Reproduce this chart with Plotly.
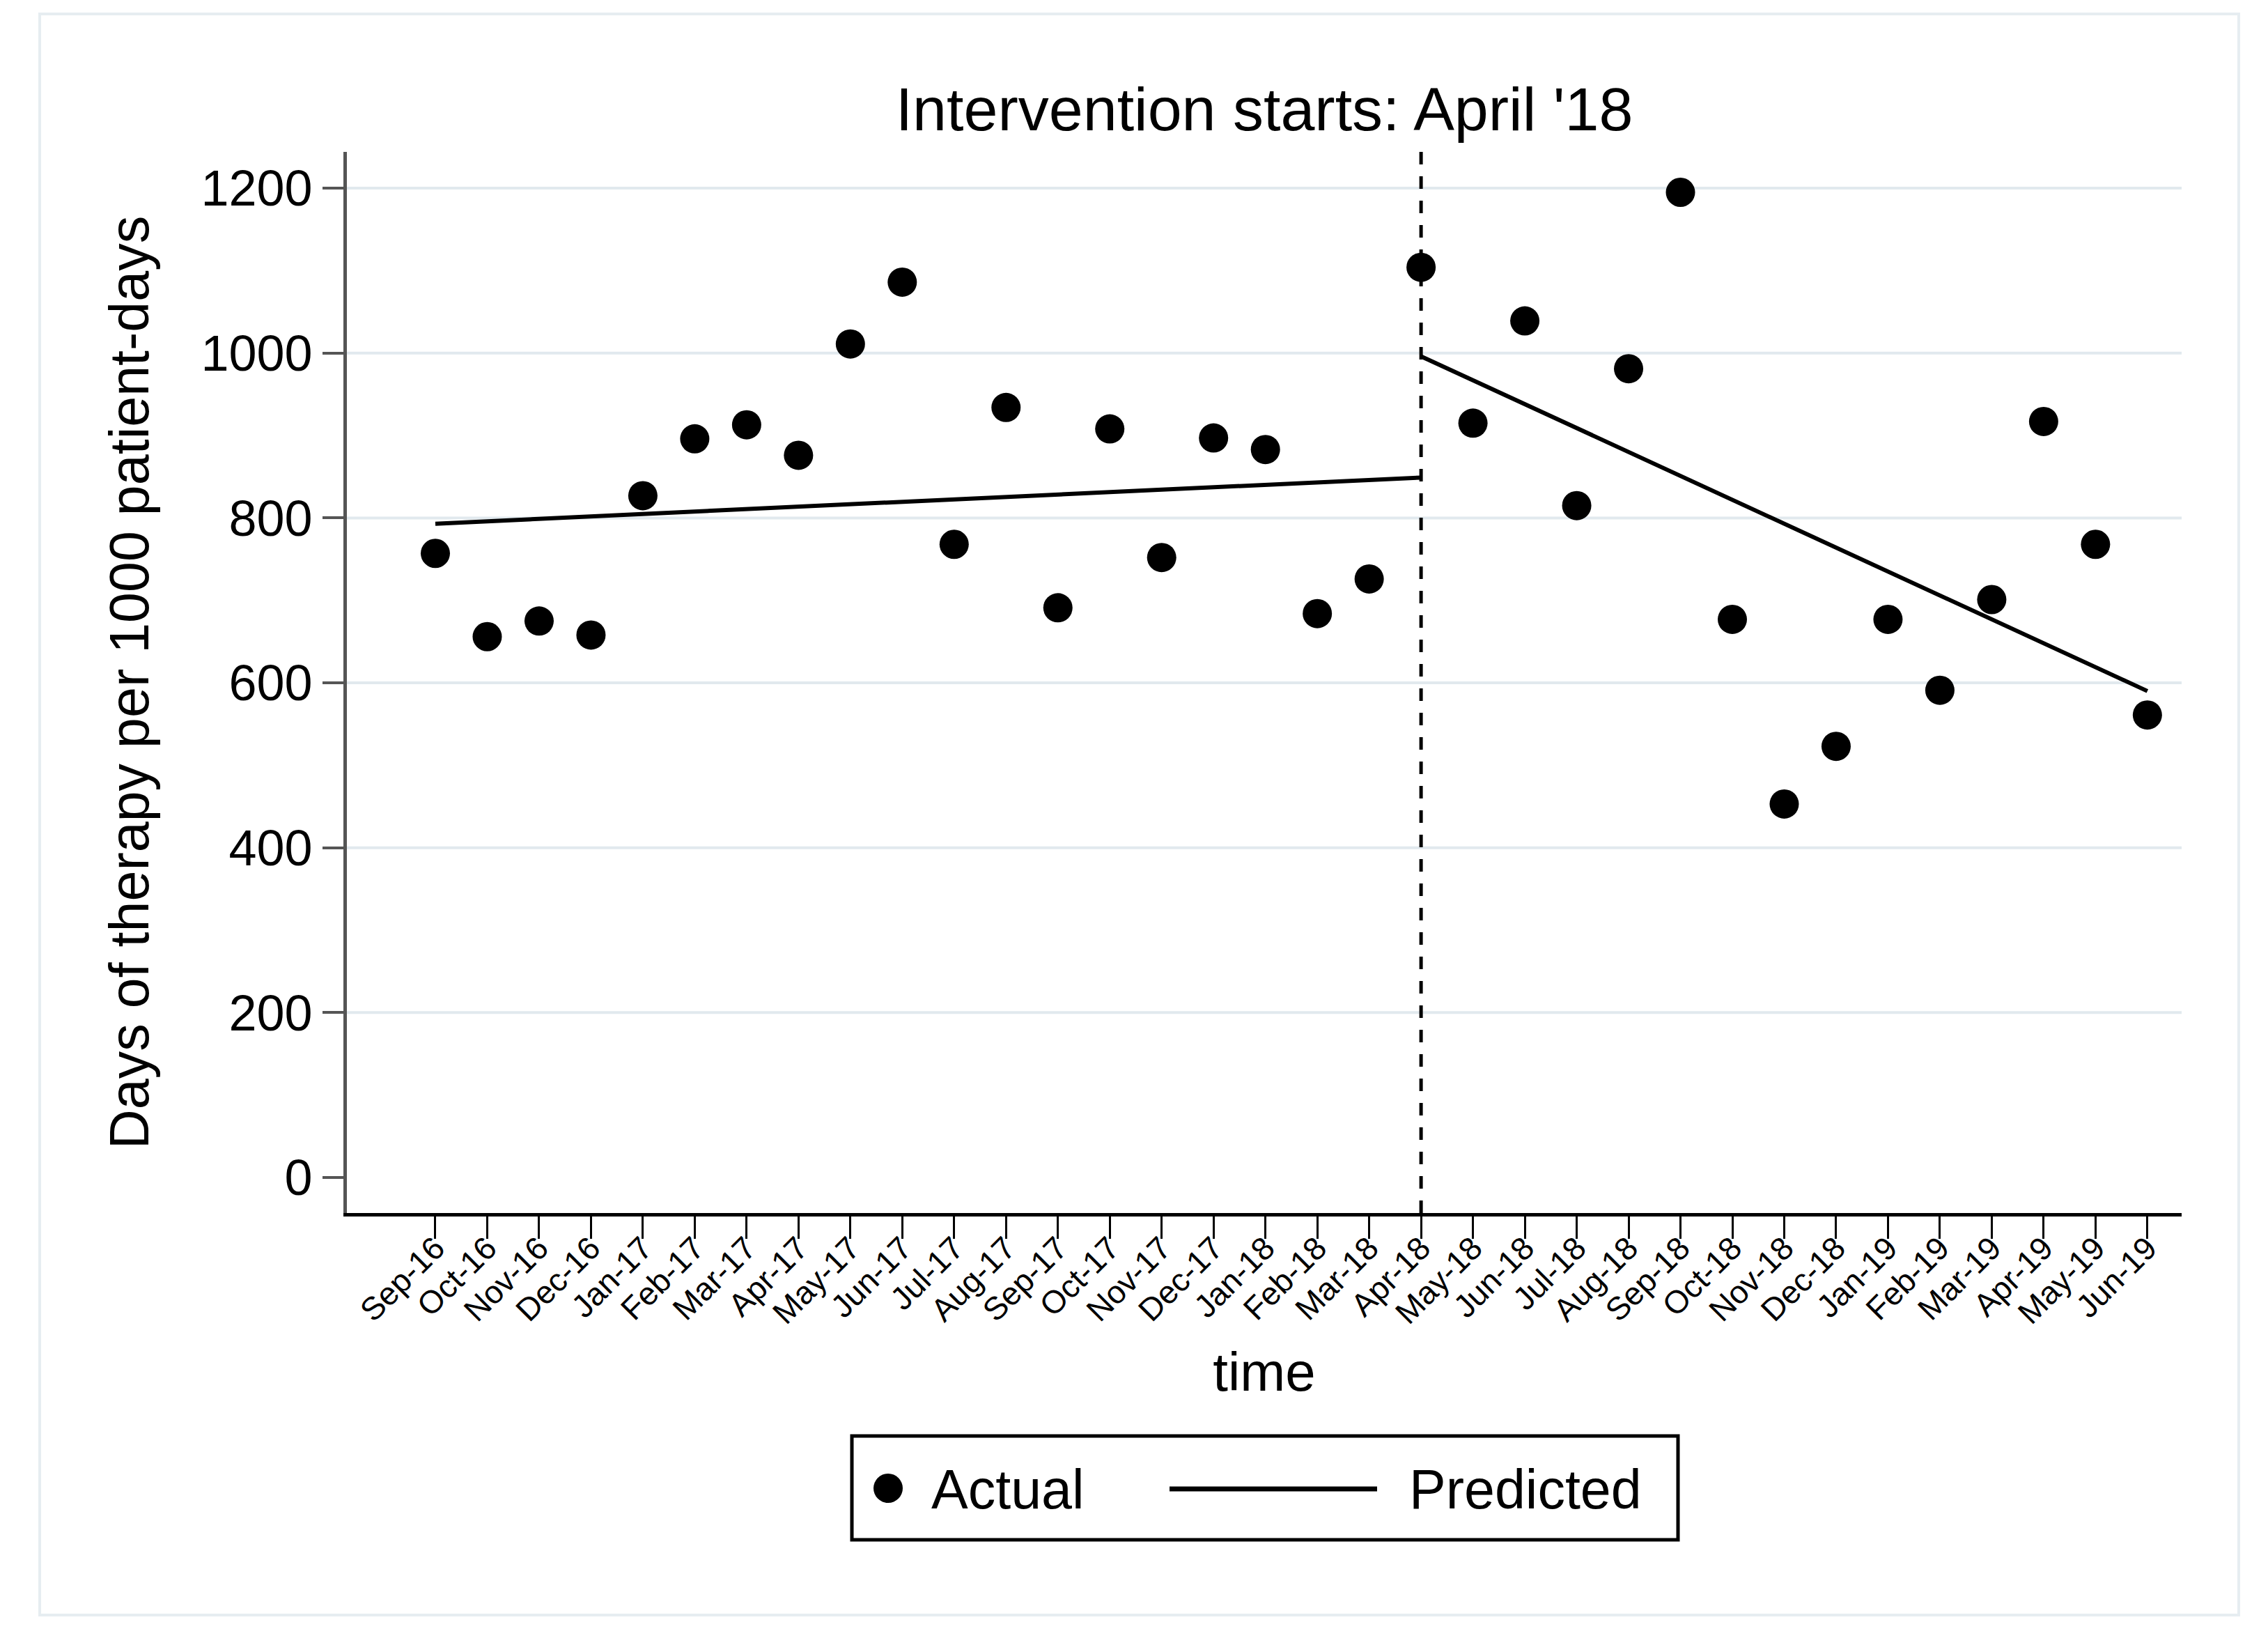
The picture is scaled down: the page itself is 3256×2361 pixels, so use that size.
import plotly.graph_objects as go

# ---------------- data ----------------
months = ["Sep-16", "Oct-16", "Nov-16", "Dec-16", "Jan-17", "Feb-17", "Mar-17", "Apr-17",
          "May-17", "Jun-17", "Jul-17", "Aug-17", "Sep-17", "Oct-17", "Nov-17", "Dec-17",
          "Jan-18", "Feb-18", "Mar-18", "Apr-18", "May-18", "Jun-18", "Jul-18", "Aug-18",
          "Sep-18", "Oct-18", "Nov-18", "Dec-18", "Jan-19", "Feb-19", "Mar-19", "Apr-19",
          "May-19", "Jun-19"]

actual = [757, 656, 675, 658, 827, 896, 913, 876, 1011, 1086, 768, 934, 691, 908, 752, 897,
          883, 684, 726, 1104, 915, 1039, 815, 981, 1195, 677, 453, 523, 677, 591, 701, 917,
          768, 561]

# predicted (segmented) - pre-intervention: Sep-16 .. Apr-18
pred_pre = [793, 796, 799, 802, 805, 808, 811, 814, 816, 819, 822, 825, 828, 831, 834, 837,
            840, 843, 846, 849]
# post-intervention: Apr-18 .. Jun-19
pred_post = [996, 967, 938, 909, 880, 851, 822, 793, 764, 735, 706, 677, 648, 619, 590]

intervention_month = "Apr-18"
y_ticks = [0, 200, 400, 600, 800, 1000, 1200]
grid_vals = [200, 400, 600, 800, 1000, 1200]

title_text = "Intervention starts: April '18"
y_title = "Days of therapy per 1000 patient-days"
x_title = "time"

# ---------------- layout geometry ----------------
W, H = 3256, 2361
DX, DY = -7, -7
L, R, T, B = 497 + DX, 3131 + DX, 217 + DY, 1740 + DY
PW, PH = R - L, B - T


def px2x(px):
    return (px + DX - L) / PW


def py2y(py):
    return (B - (py + DY)) / PH


x_idx = list(range(len(months)))
iv = months.index(intervention_month)
x_pre = x_idx[: iv + 1]
x_post = x_idx[iv:]

FONT = "Arial, Liberation Sans, Helvetica, sans-serif"

fig = go.Figure()

fig.add_trace(go.Scatter(
    x=x_idx, y=actual, mode="markers", name="Actual",
    marker=dict(size=42, color="black", line=dict(width=0)),
    showlegend=False,
))
fig.add_trace(go.Scatter(
    x=x_pre, y=pred_pre, mode="lines", name="Predicted",
    line=dict(color="black", width=6), showlegend=False,
))
fig.add_trace(go.Scatter(
    x=x_post, y=pred_post, mode="lines", name="Predicted",
    line=dict(color="black", width=6), showlegend=False,
))

shapes = []
# gridlines
for g in grid_vals:
    shapes.append(dict(type="line", xref="paper", yref="y", x0=0, x1=1, y0=g, y1=g,
                       line=dict(color="#e1e9ee", width=4), layer="below"))
# intervention line
shapes.append(dict(type="line", xref="x", yref="paper", x0=iv, x1=iv, y0=0, y1=1,
                   line=dict(color="black", width=5, dash="18px,17px"), layer="above"))
# outer light frame
shapes.append(dict(type="rect", xref="paper", yref="paper",
                   x0=px2x(56), x1=px2x(3213), y0=py2y(2317), y1=py2y(19),
                   line=dict(color="#e6edf1", width=4), layer="below"))
# legend box
shapes.append(dict(type="rect", xref="paper", yref="paper",
                   x0=px2x(1222), x1=px2x(2408), y0=py2y(2209), y1=py2y(2060),
                   line=dict(color="black", width=5), fillcolor="white", layer="above"))
# legend marker
shapes.append(dict(type="circle", xref="paper", yref="paper",
                   xsizemode="pixel", ysizemode="pixel",
                   xanchor=px2x(1274), yanchor=py2y(2135),
                   x0=-21, x1=21, y0=-21, y1=21,
                   fillcolor="black", line=dict(width=0), layer="above"))
# legend line
shapes.append(dict(type="line", xref="paper", yref="paper",
                   x0=px2x(1678), x1=px2x(1976), y0=py2y(2136), y1=py2y(2136),
                   line=dict(color="black", width=7), layer="above"))

annotations = [
    dict(text="Actual", xref="paper", yref="paper", x=px2x(1334), y=py2y(2136),
         xanchor="left", yanchor="middle", showarrow=False,
         font=dict(family=FONT, size=79, color="black")),
    dict(text="Predicted", xref="paper", yref="paper", x=px2x(2020), y=py2y(2136),
         xanchor="left", yanchor="middle", showarrow=False,
         font=dict(family=FONT, size=79, color="black")),
]

fig.update_layout(
    width=W, height=H,
    margin=dict(l=L, r=W - R, t=T, b=H - B, autoexpand=False),
    paper_bgcolor="white", plot_bgcolor="white",
    font=dict(family=FONT, color="black"),
    title=dict(text=title_text, x=0.5, xref="paper", xanchor="center",
               y=1 - (155 + DY) / H, yref="container", yanchor="middle",
               font=dict(family=FONT, size=88, color="black")),
    shapes=shapes, annotations=annotations,
    showlegend=False,
)

fig.update_xaxes(
    range=[-1.705, 33.66], tickmode="array", tickvals=x_idx, ticktext=months,
    tickangle=-45, tickfont=dict(family=FONT, size=46, color="black"),
    ticks="outside", ticklen=32, tickwidth=3, tickcolor="black",
    ticklabelstandoff=-32,
    showline=True, linecolor="black", linewidth=5, showgrid=False, zeroline=False,
    title=dict(text=x_title, font=dict(family=FONT, size=78, color="black"), standoff=34),
)
fig.update_yaxes(
    range=[-43.1, 1244], tickmode="array", tickvals=y_ticks,
    tickfont=dict(family=FONT, size=72, color="black"),
    ticks="outside", ticklen=30, tickwidth=4, tickcolor="#555555",
    showline=True, linecolor="#555555", linewidth=5, showgrid=False, zeroline=False,
    title=dict(text=y_title, font=dict(family=FONT, size=79, color="black"), standoff=50),
)

fig.write_html("out.html")
